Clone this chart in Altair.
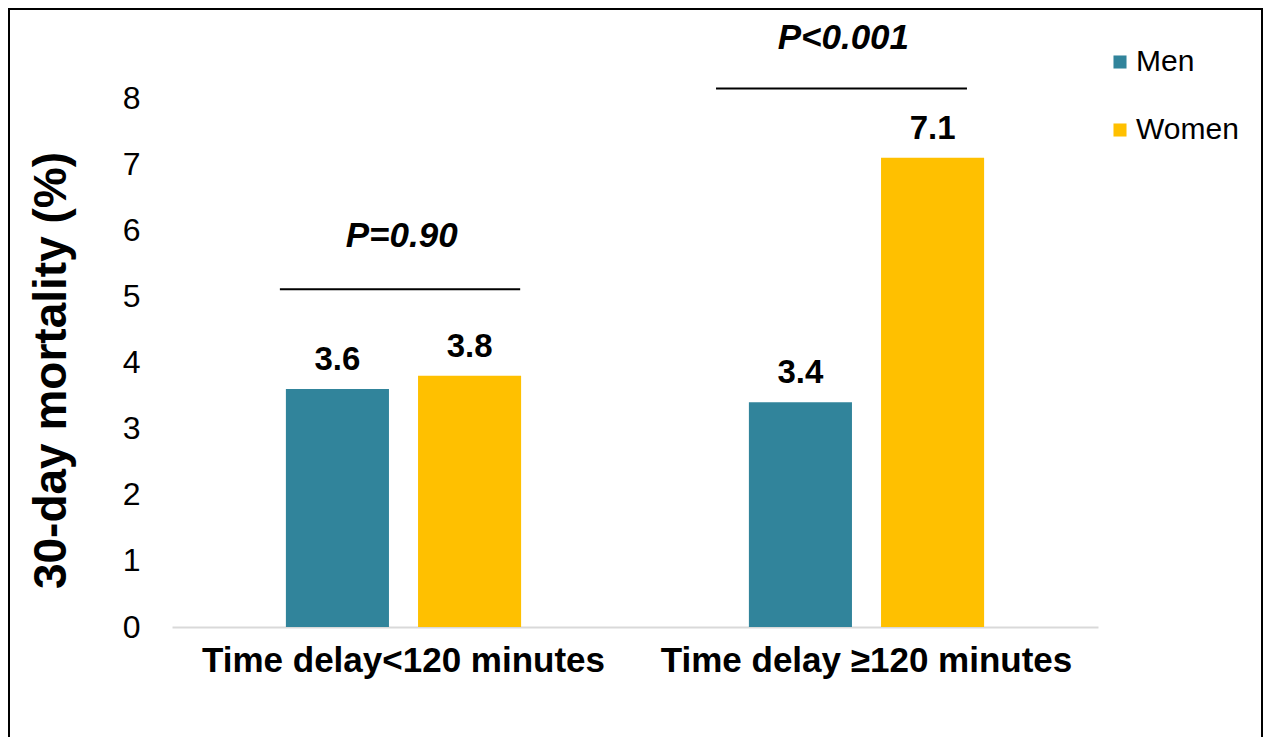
import altair as alt
import pandas as pd

groups = ["Time delay<120 minutes", "Time delay \u2265120 minutes"]
sexes = ["Men", "Women"]
men_values = [3.6, 3.4]
women_values = [3.8, 7.1]
colors = ["#31849B", "#FFC000"]

p_labels = ["P=0.90", "P<0.001"]
p_line_start = [0.233, 1.175]
p_line_end = [0.752, 1.717]
p_line_y = [5.11, 8.15]
p_text_x = [0.496, 1.45]
p_text_y = [5.91, 8.91]

rows = []
for i, g in enumerate(groups):
    rows.append({"group": g, "sex": "Men", "value": men_values[i]})
    rows.append({"group": g, "sex": "Women", "value": women_values[i]})
bars_df = pd.DataFrame(rows)

ann_df = pd.DataFrame({
    "label": p_labels,
    "x1": p_line_start,
    "x2": p_line_end,
    "ly": p_line_y,
    "tx": p_text_x,
    "ty": p_text_y,
})

FONT = "Liberation Sans"
W, H = 926, 608

x_enc = alt.X("group:N", sort=groups,
              scale=alt.Scale(paddingInner=0.492, paddingOuter=0.246),
              axis=alt.Axis(title=None, labelAngle=0, labelFontSize=35, labelFontWeight="bold",
                            labelColor="black", labelPadding=16, ticks=False, labelLimit=0,
                            domainColor="#d9d9d9", domainWidth=2, labelFont=FONT))
y_enc = alt.Y("value:Q", scale=alt.Scale(domain=[0, 9.2], nice=False),
              axis=alt.Axis(title="30-day mortality (%)", values=list(range(0, 9)), grid=False,
                            format="d",
                            domain=False, ticks=False, labelFontSize=32, labelColor="black",
                            labelPadding=32, titleFontSize=46, titleFontWeight="bold",
                            titleColor="black", titlePadding=47, titleY=351,
                            labelFont=FONT, titleFont=FONT))
xoff = alt.XOffset("sex:N", sort=sexes, scale=alt.Scale(paddingInner=0.22, paddingOuter=0))

base = alt.Chart(bars_df)
bars = base.mark_bar().encode(
    x=x_enc, y=y_enc, xOffset=xoff,
    color=alt.Color("sex:N", sort=sexes, scale=alt.Scale(domain=sexes, range=colors),
                    legend=alt.Legend(title=None, orient="none", legendX=933, legendY=28,
                                      symbolType="square", symbolSize=170, symbolStrokeWidth=0,
                                      labelFontSize=30, labelFont=FONT, labelColor="black",
                                      labelOffset=1, rowPadding=38)),
)
labels = base.mark_text(fontSize=33, fontWeight="bold", baseline="bottom", dy=-12,
                        font=FONT, color="black").encode(
    x=alt.X("group:N", sort=groups), y="value:Q", xOffset=xoff,
    text=alt.Text("value:Q", format=".1f"),
)

xq = alt.Scale(domain=[0, 2])
ann = alt.Chart(ann_df)
rules = ann.mark_rule(color="black", strokeWidth=2).encode(
    x=alt.X("x1:Q", scale=xq, axis=None), x2="x2:Q", y="ly:Q")
ptext = ann.mark_text(fontSize=35, fontWeight="bold", fontStyle="italic", font=FONT,
                      color="black", baseline="middle").encode(
    x=alt.X("tx:Q", scale=xq, axis=None), y="ty:Q", text="label:N")

frame = alt.Chart(ann_df).mark_rect(fill="transparent", stroke="black", strokeWidth=2).encode(
    x=alt.value(-163), x2=alt.value(1090), y=alt.value(-10), y2=alt.value(740))

main = alt.layer(bars, labels).properties(width=W, height=H)
anno = alt.layer(rules, ptext).properties(width=W, height=H)

chart = alt.layer(main, anno, frame).resolve_scale(x="independent").properties(
    width=W, height=H,
    autosize=alt.AutoSizeParams(type="none"),
    padding={"left": 164, "top": 11, "right": 165, "bottom": 110},
).configure(background="white").configure_view(stroke=None, strokeWidth=0)

chart.save("out.html", embed_options={"renderer": "svg", "actions": False})
